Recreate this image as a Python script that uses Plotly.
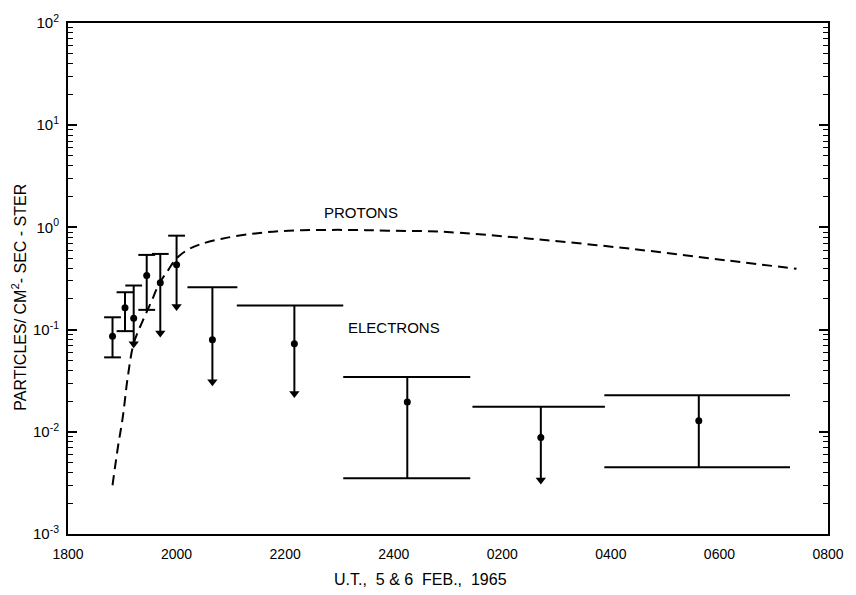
import plotly.graph_objects as go

# ---- data (time in hours UT; 24+ means next day) ----
x_tickvals = [18, 20, 22, 24, 26, 28, 30, 32]
x_ticktext = ["1800", "2000", "2200", "2400", "0200", "0400", "0600", "0800"]
y_tickvals = [1e-3, 1e-2, 1e-1, 1e0, 1e1, 1e2]
y_ticktext = ["10<sup>-3</sup>", "10<sup>-2</sup>", "10<sup>-1</sup>", "10<sup>0</sup>",
              "10<sup>1</sup>", "10<sup>2</sup>"]

# Protons (dashed curve)
proton_t = [18.82, 18.92, 19.01, 19.10, 19.21, 19.38, 19.53, 19.68, 19.84, 19.99,
            20.20, 20.42, 20.84, 21.45, 22.06, 22.67, 23.28, 23.89, 24.86, 26.51,
            28.34, 30.17, 31.42]
proton_v = [0.0030, 0.0071, 0.014, 0.034, 0.073, 0.123, 0.185, 0.282, 0.378, 0.492,
            0.602, 0.678, 0.776, 0.873, 0.929, 0.944, 0.944, 0.929, 0.908, 0.776,
            0.620, 0.473, 0.393]

# Electrons: short-interval points with two-sided error bars
el_pt_t = [18.82, 19.05, 19.45]
el_pt_v = [0.0859, 0.164, 0.338]
el_pt_hi = [0.132, 0.232, 0.538]
el_pt_lo = [0.0535, 0.0966, 0.156]

# Electrons: short-interval points with upper value and downward arrow
el_ar_t = [19.21, 19.70, 20.00]
el_ar_v = [0.129, 0.287, 0.430]
el_ar_hi = [0.270, 0.550, 0.830]
el_ar_tip = [0.0728, 0.0925, 0.168]

# Electrons: long-interval averages
el_long_t = [20.66, 22.17, 24.25, 26.71, 29.62]
el_long_start = [20.20, 21.11, 23.07, 25.45, 27.88]
el_long_end = [21.12, 23.07, 25.41, 27.89, 31.30]
el_long_v = [0.0797, 0.0728, 0.0196, 0.00881, 0.0128]
el_long_hi = [0.260, 0.172, 0.0344, 0.01754, 0.0228]
el_long_lo = [0.0308, 0.0237, 0.00351, 0.00338, 0.0045]
el_long_arrow = [True, True, False, True, False]

FONT = "Liberation Sans"
BLACK = "black"

fig = go.Figure()

# proton curve
fig.add_trace(go.Scatter(x=proton_t, y=proton_v, mode="lines",
                         line=dict(color=BLACK, width=2, dash="10px,6px", shape="spline"),
                         hoverinfo="skip"))

# vertical lines for all electron bars
vx, vy = [], []
for t, hi, lo in zip(el_pt_t, el_pt_hi, el_pt_lo):
    vx += [t, t, None]; vy += [lo, hi, None]
for t, hi, lo in zip(el_ar_t, el_ar_hi, el_ar_tip):
    vx += [t, t, None]; vy += [lo, hi, None]
for t, hi, lo in zip(el_long_t, el_long_hi, el_long_lo):
    vx += [t, t, None]; vy += [lo, hi, None]
fig.add_trace(go.Scatter(x=vx, y=vy, mode="lines", line=dict(color=BLACK, width=2),
                         hoverinfo="skip"))

# caps on short bars
cap_t = el_pt_t + el_pt_t + el_ar_t
cap_v = el_pt_hi + el_pt_lo + el_ar_hi
fig.add_trace(go.Scatter(x=cap_t, y=cap_v, mode="markers",
                         marker=dict(symbol="line-ew", size=12,
                                     line=dict(color=BLACK, width=2)),
                         hoverinfo="skip"))

# horizontal interval bars on long bars
hx, hy = [], []
for s, e, hi, lo, arr in zip(el_long_start, el_long_end, el_long_hi, el_long_lo, el_long_arrow):
    hx += [s, e, None]; hy += [hi, hi, None]
    if not arr:
        hx += [s, e, None]; hy += [lo, lo, None]
fig.add_trace(go.Scatter(x=hx, y=hy, mode="lines", line=dict(color=BLACK, width=2),
                         hoverinfo="skip"))

# arrowheads
arr_t = el_ar_t + [t for t, a in zip(el_long_t, el_long_arrow) if a]
arr_v = el_ar_tip + [v for v, a in zip(el_long_lo, el_long_arrow) if a]
fig.add_trace(go.Scatter(x=arr_t, y=arr_v, mode="markers",
                         marker=dict(symbol="triangle-down", size=9, color=BLACK),
                         hoverinfo="skip"))

# data points
fig.add_trace(go.Scatter(x=el_pt_t + el_ar_t + el_long_t,
                         y=el_pt_v + el_ar_v + el_long_v, mode="markers",
                         marker=dict(symbol="circle", size=7, color=BLACK),
                         hoverinfo="skip"))

# labels
fig.add_annotation(x=23.40, y=0.143, xref="x", yref="y", text="PROTONS", showarrow=False,
                   font=dict(family=FONT, size=15, color=BLACK))
fig.add_annotation(x=24.0, y=-0.98, xref="x", yref="y", text="ELECTRONS", showarrow=False,
                   font=dict(family=FONT, size=15, color=BLACK))
fig.add_annotation(x=0.464, y=-0.09, xref="paper", yref="paper", xanchor="center",
                   yanchor="middle", text="U.T.,  5 & 6  FEB.,  1965", showarrow=False,
                   font=dict(family=FONT, size=16, color=BLACK))
fig.add_annotation(x=-0.064, y=0.463, xref="paper", yref="paper", textangle=-90,
                   xanchor="center", yanchor="middle",
                   text="PARTICLES/ CM<sup>2</sup>- SEC - STER", showarrow=False,
                   font=dict(family=FONT, size=16, color=BLACK))

minor_vals = []
for e in range(-3, 2):
    for m in range(2, 10):
        minor_vals.append(m * 10 ** e)

fig.update_layout(
    width=856, height=595,
    margin=dict(l=68, r=23, t=22, b=61),
    paper_bgcolor="white", plot_bgcolor="white",
    showlegend=False,
    font=dict(family=FONT, size=14, color=BLACK),
    xaxis=dict(range=[18, 32], tickmode="array", tickvals=x_tickvals, ticktext=x_ticktext,
               showgrid=False, zeroline=False, showline=True, linecolor=BLACK, linewidth=2,
               mirror=True, ticks="", ticklabelstandoff=6,
               tickfont=dict(family=FONT, size=14, color=BLACK)),
    yaxis=dict(type="log", range=[-3, 2], tickmode="array", tickvals=y_tickvals,
               ticktext=y_ticktext, showgrid=False, zeroline=False, showline=True,
               linecolor=BLACK, linewidth=2, mirror="ticks", ticks="inside", ticklen=9,
               tickwidth=1.5, tickcolor=BLACK, ticklabelstandoff=4,
               tickfont=dict(family=FONT, size=15, color=BLACK),
               minor=dict(tickmode="array", tickvals=minor_vals, ticks="inside",
                          ticklen=5, tickwidth=1.2, tickcolor=BLACK, showgrid=False)),
)

fig.write_html("out.html", config={"displayModeBar": False},
               post_script="document.body.style.margin='0';document.body.style.overflow='hidden';")
